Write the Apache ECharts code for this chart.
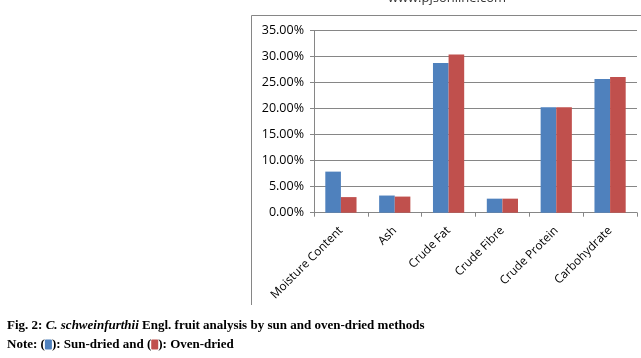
<!DOCTYPE html>
<html><head><meta charset="utf-8">
<script src="https://cdn.jsdelivr.net/npm/echarts@6/dist/echarts.min.js"></script>
<style>html,body{margin:0;padding:0;background:#fff}#c{width:641px;height:358px}</style>
</head><body><div id="c"></div>
<script>
const categories = ['Moisture Content','Ash','Crude Fat','Crude Fibre','Crude Protein','Carbohydrate'];
const sunDried = [7.9, 3.3, 28.8, 2.7, 20.3, 25.7];
const ovenDried = [3.0, 3.1, 30.4, 2.7, 20.3, 26.1];
const yTicks = [0,5,10,15,20,25,30,35];
const seriesNames = ['Sun-dried','Oven-dried'];
const blue = '#4F81BD', red = '#C0504D';

const chart = echarts.init(document.getElementById('c'));
chart.setOption({
  animation:false,
  backgroundColor:'#fff',
  grid:{left:314,right:4,top:30.7,bottom:145.3,containLabel:false},
  xAxis:{type:'category',data:categories,
    axisLine:{lineStyle:{color:'#868686'}},
    axisTick:{show:true,length:4,lineStyle:{color:'#868686'}},
    axisLabel:{rotate:45,color:'#000',fontFamily:'Open Sans',fontSize:11.8,margin:16,interval:0}},
  yAxis:{type:'value',min:0,max:35,interval:5,
    axisLine:{show:true,lineStyle:{color:'#868686'}},
    axisTick:{show:true,length:4,lineStyle:{color:'#868686'}},
    splitLine:{lineStyle:{color:'#868686'}},
    axisLabel:{color:'#000',fontFamily:'Open Sans',fontSize:12.5,margin:10,
      formatter:v=>v.toFixed(2)+'%'}},
  series:[
    {name:seriesNames[0],type:'bar',data:sunDried,itemStyle:{color:blue},barGap:'0%',barCategoryGap:'42%'},
    {name:seriesNames[1],type:'bar',data:ovenDried,itemStyle:{color:red},barGap:'0%',barCategoryGap:'42%'}
  ],
  graphic:[
    {type:'polyline',shape:{points:[[251.5,305],[251.5,15.5],[641,15.5]]},style:{fill:'none',stroke:'#868686',lineWidth:1},silent:true},
    {type:'text',x:447,y:-8,style:{text:'www.pjsonline.com',font:'13px "Open Sans"',fill:'#333',textAlign:'center'}},
    {type:'text',left:7,top:319,style:{
      rich:{
        b:{fontFamily:'Liberation Serif',fontWeight:'bold',fontSize:13,fill:'#000'},
        bi:{fontFamily:'Liberation Serif',fontWeight:'bold',fontStyle:'italic',fontSize:13,fill:'#000'}
      },
      text:'{b|Fig. 2: }{bi|C. schweinfurthii}{b| Engl. fruit analysis by sun and oven-dried methods}'
    }},
    {type:'text',left:7,top:338,style:{
      rich:{
        b:{fontFamily:'Liberation Serif',fontWeight:'bold',fontSize:13,fill:'#000'},
        s1:{backgroundColor:blue,width:7,height:10,borderRadius:1},
        s2:{backgroundColor:red,width:7,height:10,borderRadius:1}
      },
      text:'{b|Note: (}{s1|}{b|): Sun-dried and (}{s2|}{b|): Oven-dried}'
    }}
  ]
});
</script></body></html>
